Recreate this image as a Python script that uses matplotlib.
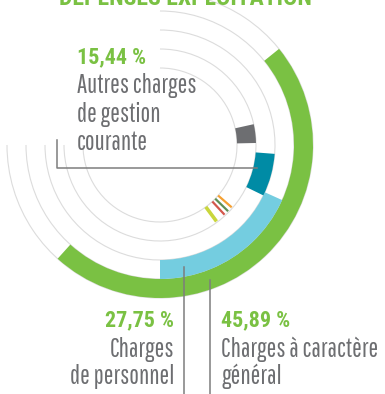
import matplotlib
matplotlib.use("Agg")
import matplotlib.pyplot as plt
from matplotlib import font_manager
from matplotlib.patches import Wedge, Arc
import numpy as np


def first_installed(names):
    have = {f.name for f in font_manager.fontManager.ttflist}
    for n in names:
        if n in have:
            return n
    return "DejaVu Sans"


TEXT_FONT = first_installed(["Pathway Gothic One", "Roboto Condensed", "Archivo Narrow",
                             "PT Sans Narrow", "Liberation Sans Narrow"])
BOLD_FONT = first_installed(["Roboto Condensed", "Barlow Condensed", "Archivo Narrow",
                             "PT Sans Narrow", "Liberation Sans Narrow"])

# ── Data ───────────────────────────────────────────────────────────────────
categories = [
    "Charges à caractère général",
    "Charges de personnel",
    "Autres charges de gestion courante",
    "Autres postes",
]
shares = [45.89, 27.75, 15.44, 11.0]
share_labels = ["45,89 %", "27,75 %", "15,44 %"]

# small items drawn as ticks in the innermost ring
minor_items = ["a", "b", "c", "d"]

# ── Style ──────────────────────────────────────────────────────────────────
GREEN = "#7ac143"
TEXT_GREY = "#6d6e71"
LEADER = "#7d7d7d"
GUIDE = "#dcdcdc"

ring_colors = [GREEN, "#74cde0", "#008ba5", "#6d6e71"]
ring_radii = [(134, 153), (115, 134), (96, 115), (77, 96)]
ring_start = [-132, -90, -26, 1.2]
minor_colors = ["#c9d63c", "#d3574c", "#5f8f55", "#f5a032"]
minor_angles = [-53.5, -47.2, -44.2, -41.0]
minor_widths = [2.6, 1.6, 1.6, 1.6]
guide_radii = [77, 96, 115, 134, 153]

# sweep of each arc grows a bit faster than its share
SWEEP_K, SWEEP_EXP = 0.119, 1.9


def sweep(v):
    return SWEEP_K * v ** SWEEP_EXP


fig = plt.figure(figsize=(3.85, 3.94), dpi=100)
ax = fig.add_axes([0, 0, 1, 1])
ax.set_xlim(-160, 225)
ax.set_ylim(-249, 145)
ax.set_aspect("equal")
ax.axis("off")

for r in guide_radii:
    ax.add_patch(Arc((0, 0), 2 * r, 2 * r, theta1=-180, theta2=90,
                     color=GUIDE, lw=0.8, zorder=1))

for val, col, (r_in, r_out), start in zip(shares, ring_colors, ring_radii, ring_start):
    ax.add_patch(Wedge((0, 0), r_out, start, start + sweep(val),
                       width=r_out - r_in, facecolor=col, edgecolor="none", zorder=2))

r_in, r_out = ring_radii[3]
for col, ang, lw in zip(minor_colors, minor_angles, minor_widths):
    a = np.radians(ang)
    ax.plot([r_in * np.cos(a), (r_out - 1) * np.cos(a)],
            [r_in * np.sin(a), (r_out - 1) * np.sin(a)],
            color=col, lw=lw, solid_capstyle="butt", zorder=3)

# ── Title (cropped at the top edge) ────────────────────────────────────────
ax.text(25, 140, "DÉPENSES EXPLOITATION", color=GREEN, fontsize=17, family=BOLD_FONT,
        fontweight="bold", ha="center", va="baseline")

# ── Labels and leader lines ────────────────────────────────────────────────
fs = 18.5
fs_num = 15.8
num_kw = dict(color=GREEN, fontsize=fs_num, fontweight="bold", family=BOLD_FONT, va="baseline")
txt_kw = dict(color=TEXT_GREY, fontsize=fs, family=TEXT_FONT, va="baseline")

ax.text(-83, 81.7, share_labels[2], **num_kw)
for i, line in enumerate(["Autres charges", "de gestion", "courante"]):
    ax.text(-83, 51.7 - i * 28.3, line, **txt_kw)
ax.plot([-103, -103, 97], [5, -23, -23], color=LEADER, lw=1.1, zorder=4)

ax.text(14, -181.7, share_labels[1], ha="right", **num_kw)
for i, line in enumerate(["Charges", "de personnel"]):
    ax.text(14, -211.7 - i * 27.5, line, ha="right", **txt_kw)

ax.text(61, -181.7, share_labels[0], **num_kw)
for i, line in enumerate(["Charges à caractère", "général"]):
    ax.text(61, -211.7 - i * 27.5, line, **txt_kw)

for x, (r_in, r_out) in zip([24, 50], [ring_radii[1], ring_radii[0]]):
    r_mid = (r_in + r_out) / 2
    ax.plot([x, x], [-np.sqrt(r_mid ** 2 - x ** 2), -249], color=LEADER, lw=1.1, zorder=4)

fig.savefig("out.png", dpi=100)
